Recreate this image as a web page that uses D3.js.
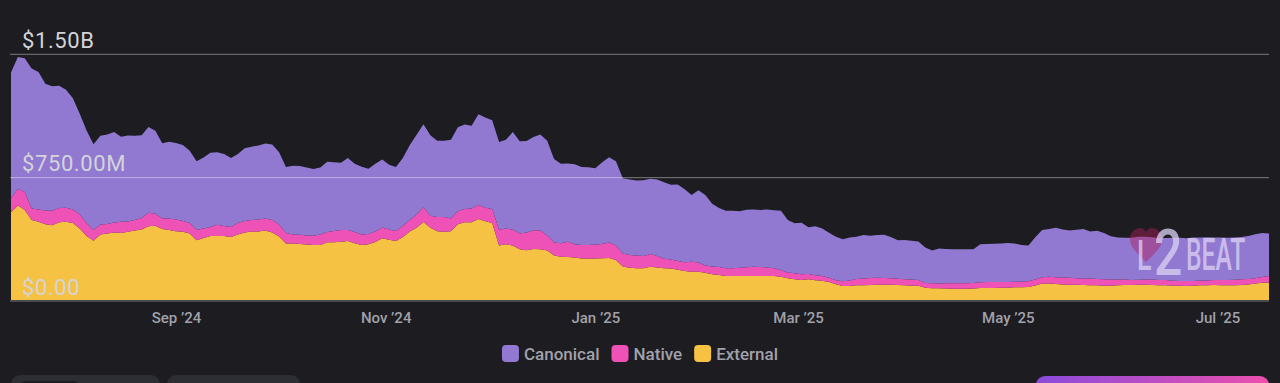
<!DOCTYPE html>
<html><head><meta charset="utf-8">
<script src="https://cdn.jsdelivr.net/npm/d3@7"></script>
<style>
html,body{margin:0;padding:0;background:#1c1c21;overflow:hidden}
svg{display:block;font-family:Roboto,"Noto Sans",sans-serif}
</style></head><body>
<svg id="chart" width="1280" height="383"></svg>
<script>
// ---- data (values in $M) ----
const startDate = "2024-07-15";
const endDate = "2025-07-16";
const stepDays = 2;
const seriesKeys = ["canonical", "native", "external"];
const seriesNames = ["Canonical", "Native", "External"];
const seriesColors = ["#9179d1", "#ee52b6", "#f6c244"];

const canonical = [765,800,814,850,837,771,756,744,718,677,
610,564,522,540,544,550,516,523,513,504,
521,504,457,466,465,462,440,419,431,452,
442,437,419,419,443,446,451,457,459,440,
401,417,419,413,406,407,428,419,410,438,
416,411,397,412,413,394,389,413,454,486,
504,489,465,463,480,510,514,502,553,548,
540,533,540,594,562,557,567,584,577,508,
484,476,486,474,473,463,498,519,513,459,
459,455,460,458,465,465,454,466,445,406,
440,428,381,359,350,349,344,349,348,346,
353,353,360,320,304,312,285,298,288,274,
265,256,262,256,264,256,259,262,251,234,
239,236,234,215,199,212,208,206,206,206,
206,231,231,233,234,236,232,222,217,258,
287,290,302,291,287,294,300,286,293,282,
262,255,254,257,262,261,257,254,256,262,
263,261,264,262,262,259,258,258,257,257,
261,268,268,259];

const native = [85,103,109,71,74,84,88,87,85,82,
88,77,64,61,58,61,69,62,64,69,
82,73,65,71,71,65,64,61,58,55,
68,61,61,70,70,70,72,72,76,73,
64,56,56,55,56,64,62,68,71,67,
68,65,62,65,66,62,61,67,70,79,
91,73,86,90,77,80,81,85,84,82,
85,95,95,97,95,108,114,114,91,78,
82,92,80,81,81,85,86,93,88,79,
78,78,75,77,70,58,55,53,52,60,
56,45,47,49,47,47,50,53,56,55,
52,47,41,35,36,36,32,30,29,26,
24,29,33,39,41,43,44,41,40,38,
37,37,36,29,30,30,32,33,33,33,
33,35,36,36,35,35,34,35,35,36,
39,40,41,42,42,41,40,40,39,39,
38,36,33,30,31,32,33,32,32,30,
30,30,29,29,29,30,32,32,33,35,
33,31,35,41];

const external = [534,574,547,486,476,460,455,472,476,468,
434,389,361,398,404,410,407,415,422,429,
449,452,431,425,418,415,404,364,377,389,
389,389,383,398,410,416,417,423,410,386,
343,343,340,337,334,334,351,351,354,358,
345,334,339,352,375,367,358,383,417,440,
474,440,418,415,418,460,472,472,493,479,
468,332,339,331,309,302,310,308,301,271,
263,262,259,253,253,253,254,256,243,203,
196,193,193,202,197,193,191,184,177,172,
172,165,157,152,146,146,146,146,146,146,
146,146,142,132,126,121,126,120,117,109,
96,85,85,89,90,91,92,93,92,91,
89,87,86,75,72,71,70,69,69,69,
70,73,73,73,74,75,77,78,79,88,
100,101,97,95,93,92,91,90,89,87,
87,89,91,91,92,92,91,90,89,87,
86,85,87,89,90,91,90,89,90,91,
95,101,105,105];

const yTickValues = [0, 750, 1500];
const yTickLabels = ["$0.00", "$750.00M", "$1.50B"];
const xTickDates = ["2024-09-01", "2024-11-01", "2025-01-01", "2025-03-01", "2025-05-01", "2025-07-01"];
const xTickLabels = ["Sep \u201924", "Nov \u201924", "Jan \u201925", "Mar \u201925", "May \u201925", "Jul \u201925"];

// ---- build ----
(function () {
const parse = d3.utcParse("%Y-%m-%d");
const dates = d3.utcDay.range(parse(startDate), d3.utcDay.offset(parse(endDate), 1), stepDays);
const n = Math.min(dates.length, canonical.length, native.length, external.length);
const rows = d3.range(n).map(i => ({date: dates[i], canonical: canonical[i], native: native[i], external: external[i]}));

const svg = d3.select("#chart");
const plotLeft = 11, plotRight = 1269, plotBottom = 300, plotTop = 53.3;

const x = d3.scaleUtc().domain([parse(startDate), parse(endDate)]).range([plotLeft, plotRight]);
const y = d3.scaleLinear().domain([0, 1500]).range([plotBottom, plotTop]);

const stack = d3.stack().keys(["external", "native", "canonical"]);
const layers = stack(rows);
const colorOf = k => seriesColors[seriesKeys.indexOf(k)];

const area = d3.area()
  .x(d => x(d.data.date))
  .y0(d => y(d[0]))
  .y1(d => y(d[1]))
  .curve(d3.curveLinear);

svg.append("g").selectAll("path").data(layers).join("path")
  .attr("d", area)
  .attr("fill", d => colorOf(d.key));

// watermark (L2BEAT logo)
const wm = svg.append("g").attr("class", "watermark");
wm.append("path")
  .attr("d", "M1146,262 C1139,255 1130,248 1130,239 C1130,232 1135,228 1140,228 C1143,228 1145,230 1146,232 C1147,230 1149,228 1152,228 C1157,228 1162,232 1162,239 C1162,248 1153,255 1146,262 Z")
  .attr("fill", "#b01e5a").attr("opacity", 0.45);
const logoParts = [
  {t: "L", tx: 1137, sx: 0.62, yb: 270, fs: 43},
  {t: "2", tx: 1154, sx: 0.78, yb: 275, fs: 64},
  {t: "BEAT", tx: 1186, sx: 0.56, yb: 270, fs: 44}
];
wm.selectAll("g.part").data(logoParts).join("g").attr("class", "part")
  .attr("transform", d => `translate(${d.tx},0) scale(${d.sx},1)`)
  .append("text").attr("x", 0).attr("y", d => d.yb)
  .attr("font-family", "Roboto").attr("font-weight", 500)
  .attr("font-size", d => d.fs)
  .attr("fill", "#ddd3f3").attr("opacity", 0.75)
  .text(d => d.t);

// y axis: gridlines + labels
const yAxis = d3.axisRight(y)
  .tickValues(yTickValues)
  .tickSize(plotRight - plotLeft + 1)
  .tickFormat((d, i) => yTickLabels[i]);
const gy = svg.append("g").attr("transform", `translate(${plotLeft - 1},0.5)`).call(yAxis);
gy.select(".domain").remove();
gy.selectAll(".tick line").attr("stroke", "#ffffff").attr("stroke-opacity", 0.42).attr("stroke-width", 1);
gy.selectAll(".tick text")
  .attr("x", 12).attr("dy", 0).attr("y", -6.5)
  .attr("text-anchor", "start")
  .attr("fill", "#d4d4d8")
  .attr("font-size", 22)
  .attr("letter-spacing", 0.6)
  .attr("font-family", "Roboto")
  .attr("font-weight", 400);

// x axis
const xAxis = d3.axisBottom(x)
  .tickValues(xTickDates.map(parse))
  .tickSize(0)
  .tickFormat((d, i) => xTickLabels[i]);
const gx = svg.append("g").attr("transform", `translate(0,${plotBottom})`).call(xAxis);
gx.select(".domain").remove();
gx.selectAll(".tick text")
  .attr("y", 23).attr("dy", 0)
  .attr("fill", "#a1a1aa")
  .attr("font-size", 15)
  .attr("font-family", "Roboto")
  .attr("font-weight", 500);

// legend
const lg = svg.append("g");
const items = lg.selectAll("g").data(seriesNames).join("g");
items.append("rect").attr("width", 17).attr("height", 17).attr("rx", 4).attr("y", 345)
  .attr("fill", (d, i) => seriesColors[i]);
items.append("text").attr("x", 22).attr("y", 360)
  .attr("fill", "#a1a1aa").attr("font-size", 17).attr("font-weight", 500)
  .text(d => d);
const widths = [];
items.each(function () {
  widths.push(22 + this.querySelector("text").getComputedTextLength());
});
const gap = 12;
const total = d3.sum(widths) + gap * (widths.length - 1);
const lx = 640 - total / 2;
items.attr("transform", (d, i) => `translate(${lx + d3.sum(widths.slice(0, i)) + gap * i},0)`);

// bottom controls (partially visible)
const ctl = svg.append("g");
ctl.append("rect").attr("x", 11).attr("y", 375).attr("width", 149).attr("height", 30).attr("rx", 9).attr("fill", "#2d2e33");
ctl.append("rect").attr("x", 19).attr("y", 381).attr("width", 61).attr("height", 30).attr("rx", 7).attr("fill", "#1c1c21");
ctl.append("rect").attr("x", 167).attr("y", 375).attr("width", 133).attr("height", 30).attr("rx", 9).attr("fill", "#2d2e33");
const defs = svg.append("defs");
const grad = defs.append("linearGradient").attr("id", "btnGrad");
grad.append("stop").attr("offset", "0%").attr("stop-color", "#8b4bdc");
grad.append("stop").attr("offset", "100%").attr("stop-color", "#ec4fad");
ctl.append("rect").attr("x", 1036).attr("y", 376).attr("width", 233).attr("height", 30).attr("rx", 9).attr("fill", "url(#btnGrad)");
})();
</script>
</body></html>
